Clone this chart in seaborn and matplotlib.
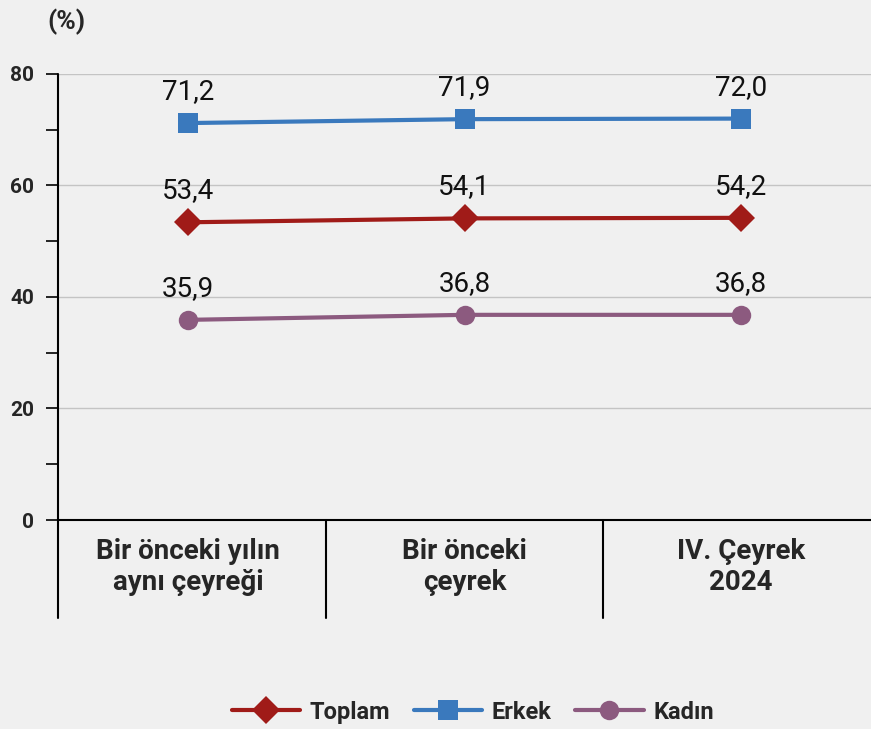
import pandas as pd
import seaborn as sns
import matplotlib.pyplot as plt

periods = ["Bir önceki yılın\naynı çeyreği", "Bir önceki\nçeyrek", "IV. Çeyrek\n2024"]
toplam = [53.4, 54.1, 54.2]
erkek = [71.2, 71.9, 72.0]
kadin = [35.9, 36.8, 36.8]
labels = ["Toplam", "Erkek", "Kadın"]

df = pd.DataFrame({
    "x": list(range(3)) * 3,
    "deger": toplam + erkek + kadin,
    "seri": [labels[0]] * 3 + [labels[1]] * 3 + [labels[2]] * 3,
})

sns.set_style("white")
plt.rcParams['font.family'] = ['Roboto', 'DejaVu Sans']
bg = "#f0f0f0"

fig = plt.figure(figsize=(8.71, 7.29), dpi=100, facecolor=bg)
ax = fig.add_axes([58 / 871, 209 / 729, 1 - 58 / 871, (520 - 74) / 729])
ax.set_facecolor(bg)

colors = {"Toplam": "#a01b18", "Erkek": "#3a79bd", "Kadın": "#8c5a7f"}
markers = {"Toplam": "D", "Erkek": "s", "Kadın": "o"}
sizes = {"Toplam": 14, "Erkek": 15, "Kadın": 14}

for s in labels:
    d = df[df["seri"] == s]
    sns.lineplot(data=d, x="x", y="deger", color=colors[s], marker=markers[s],
                 markersize=sizes[s], markeredgewidth=0, linewidth=3, ax=ax,
                 label=s, clip_on=False)
    for xv, yv in zip(d["x"], d["deger"]):
        ax.annotate(f"{yv:.1f}".replace(".", ","), (xv, yv), xytext=(0, 13),
                    textcoords="offset points", ha="center", va="bottom",
                    fontsize=20, color="#111111")

ax.set_xlim(-0.47, 2.47)
ax.set_ylim(0, 80)
ax.set_yticks([0, 20, 40, 60, 80])
ax.set_yticks([10, 30, 50, 70], minor=True)
ax.set_yticklabels(["0", "20", "40", "60", "80"], fontsize=15, fontweight="bold")
ax.tick_params(axis="y", which="both", direction="out", length=9, width=1.2,
               color="black", left=True, pad=8)
ax.set_xticks([])
ax.set_xlabel("")
ax.set_ylabel("")
for v in [20, 40, 60, 80]:
    ax.axhline(v, color="#c4c4c4", linewidth=1, zorder=0)

for sp in ["top", "right"]:
    ax.spines[sp].set_visible(False)
ax.spines["left"].set_visible(False)
ax.spines["bottom"].set_color("black")
ax.spines["bottom"].set_linewidth(1.5)

tr = ax.get_xaxis_transform()
for xv in [-0.47, 0.5, 1.5]:
    ax.plot([xv, xv], [-0.22, 1.0 if xv < 0 else 0], transform=tr, color="black",
            linewidth=1.5, clip_on=False)

for i, p in enumerate(periods):
    ax.text(i, -0.04, p, transform=tr, ha="center", va="top", fontsize=20,
            fontweight="bold", linespacing=1.2)

ax.text(0.01, 1.117, "(%)", transform=ax.transAxes, ha="center", va="center",
        fontsize=19, fontweight="bold")

ax.legend(loc="center", bbox_to_anchor=(0.51, -0.431), ncol=3, frameon=False,
          handlelength=2.9, columnspacing=1.0, handletextpad=0.4,
          prop={"weight": "bold", "size": 17})

fig.savefig("out.png", dpi=100, facecolor=bg)
